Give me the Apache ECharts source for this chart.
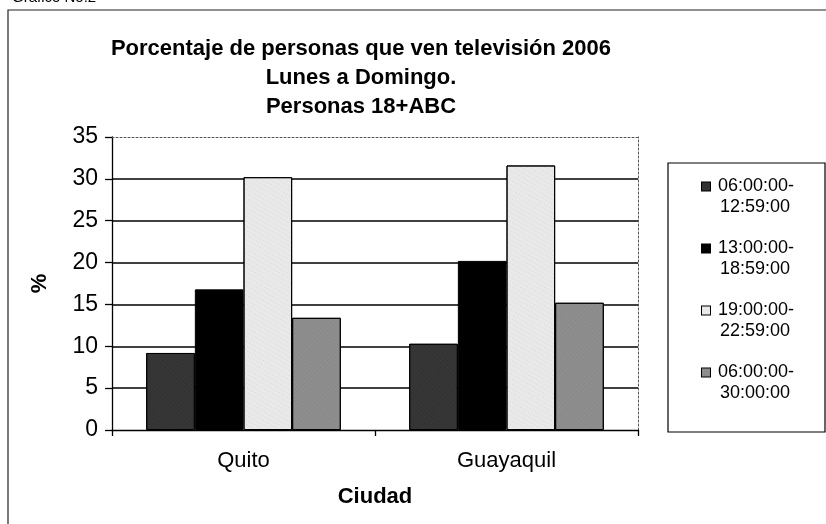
<!DOCTYPE html>
<html>
<head>
<meta charset="utf-8">
<script src="https://cdn.jsdelivr.net/npm/echarts@6/dist/echarts.min.js"></script>
<style>
  html, body { margin: 0; padding: 0; background: #fff; }
  #main { width: 826px; height: 524px; }
</style>
</head>
<body>
<div id="main"></div>
<script>
var chartDom = document.getElementById('main');
var myChart = echarts.init(chartDom);
var option;

// Ciudades y franjas horarias
const cities = ['Quito', 'Guayaquil'];
const slots = ['06:00:00-\n12:59:00', '13:00:00-\n18:59:00', '19:00:00-\n22:59:00', '06:00:00-\n30:00:00'];

// Porcentaje por franja (Quito, Guayaquil)
const slot1 = [9.2, 10.3];
const slot2 = [16.8, 20.2];
const slot3 = [30.2, 31.6];
const slot4 = [13.4, 15.2];

const yTicks = { min: 0, max: 35, step: 5 };

const font = 'Liberation Sans, Arial, sans-serif';

// relleno de cada serie (tramas grises como en el original)
const fills = [
    { color: '#333333', decal: { symbol: 'rect', symbolSize: 0.6, dashArrayX: [1, 1], dashArrayY: [1, 2], rotation: Math.PI / 4, color: 'rgba(255,255,255,0.18)' } },
    { color: '#000000', decal: null },
    { color: '#e9e9e9', decal: { symbol: 'rect', symbolSize: 0.6, dashArrayX: [1, 2], dashArrayY: [1, 3], rotation: Math.PI / 6, color: 'rgba(0,0,0,0.25)' } },
    { color: '#8e8e8e', decal: { symbol: 'rect', symbolSize: 0.6, dashArrayX: [1, 1], dashArrayY: [1, 2], rotation: -Math.PI / 4, color: 'rgba(0,0,0,0.25)' } }
];

const values = [slot1, slot2, slot3, slot4];

const series = slots.map(function (name, i) {
    const style = {
        color: fills[i].color,
        borderColor: '#000',
        borderWidth: 1
    };
    if (fills[i].decal) style.decal = fills[i].decal;
    return {
        name: name,
        type: 'bar',
        xAxisIndex: 0,
        yAxisIndex: 0,
        data: values[i],
        barGap: '0%',
        barCategoryGap: '26%',
        itemStyle: style,
        emphasis: { disabled: true }
    };
});

// estilos de texto enriquecido para la leyenda (cuadro alineado con la 1a línea)
const legendRich = {
    t: { fontFamily: font, fontSize: 18, color: '#000', lineHeight: 21 },
    g: { width: 8 },
    sp: { width: 18 }
};
fills.forEach(function (f, i) {
    legendRich['b' + i] = {
        width: 8,
        height: 8,
        backgroundColor: f.color,
        borderColor: '#000',
        borderWidth: 1
    };
});

option = {
    animation: false,
    backgroundColor: '#fff',
    textStyle: { fontFamily: font },
    title: {
        text: 'Porcentaje de personas que ven televisión 2006\nLunes a Domingo.\nPersonas 18+ABC',
        left: 356,
        top: 29,
        textAlign: 'center',
        textStyle: {
            fontFamily: font,
            fontSize: 22,
            fontWeight: 'bold',
            color: '#000',
            lineHeight: 29
        }
    },
    grid: {
        left: 112,
        right: 188,
        top: 137,
        bottom: 94
    },
    legend: {
        orient: 'vertical',
        left: 695,
        top: 176,
        padding: 0,
        itemGap: 20,
        itemWidth: 1,
        itemHeight: 1,
        icon: 'rect',
        itemStyle: { opacity: 0 },
        selectedMode: false,
        data: slots,
        formatter: function (name) {
            const i = slots.indexOf(name);
            const parts = name.split('\n');
            return '{b' + i + '|}{g|}{t|' + parts[0] + '}\n{sp|}{t|' + parts[1] + '}';
        },
        textStyle: {
            fontFamily: font,
            fontSize: 18,
            color: '#000',
            lineHeight: 21,
            rich: legendRich
        }
    },
    xAxis: [
        {
            type: 'category',
            data: cities,
            name: 'Ciudad',
            nameLocation: 'middle',
            nameGap: 56,
            nameTextStyle: { fontFamily: font, fontSize: 22, fontWeight: 'bold', color: '#000' },
            axisLine: { lineStyle: { color: '#000', width: 1.3 } },
            axisTick: { show: true, length: 6, lineStyle: { color: '#000', width: 1.3 } },
            axisLabel: { fontFamily: font, fontSize: 22, color: '#000', margin: 20 },
            splitLine: { show: false }
        },
        {
            type: 'category',
            data: cities,
            position: 'top',
            axisLine: { show: true, onZero: false, lineStyle: { color: '#555', width: 1, type: [2, 2] } },
            axisTick: { show: false },
            axisLabel: { show: false },
            splitLine: { show: false }
        }
    ],
    yAxis: [
        {
            type: 'value',
            min: yTicks.min,
            max: yTicks.max,
            interval: yTicks.step,
            name: '%',
            nameLocation: 'middle',
            nameGap: 61,
            nameTextStyle: { fontFamily: font, fontSize: 22, fontWeight: 'bold', color: '#000' },
            axisLine: { show: true, lineStyle: { color: '#000', width: 1.3 } },
            axisTick: { show: true, length: 7, lineStyle: { color: '#000', width: 1.3 } },
            axisLabel: { fontFamily: font, fontSize: 23, color: '#000', margin: 14 },
            splitLine: { show: true, showMinLine: false, showMaxLine: false, lineStyle: { color: '#000', width: 1.5 } }
        },
        {
            type: 'value',
            min: yTicks.min,
            max: yTicks.max,
            interval: yTicks.step,
            position: 'right',
            axisLine: { show: true, onZero: false, lineStyle: { color: '#555', width: 1, type: [2, 2] } },
            axisTick: { show: false },
            axisLabel: { show: false },
            splitLine: { show: false }
        }
    ],
    series: series,
    graphic: {
        elements: [
            {
                // marco exterior del gráfico
                type: 'polyline',
                shape: { points: [[8, 524], [8, 10], [826, 10]] },
                style: { stroke: '#222', lineWidth: 1.2, fill: null },
                silent: true
            },
            {
                // caja de la leyenda
                type: 'rect',
                shape: { x: 668, y: 163, width: 157, height: 269 },
                style: { stroke: '#000', lineWidth: 1.2, fill: null },
                silent: true,
                z: -1
            },
            {
                type: 'text',
                x: 12,
                y: 5,
                style: {
                    text: 'Gráfico No.2',
                    font: '15px Liberation Sans, Arial, sans-serif',
                    fill: '#000',
                    verticalAlign: 'bottom'
                },
                silent: true
            }
        ]
    }
};

myChart.setOption(option);
</script>
</body>
</html>
